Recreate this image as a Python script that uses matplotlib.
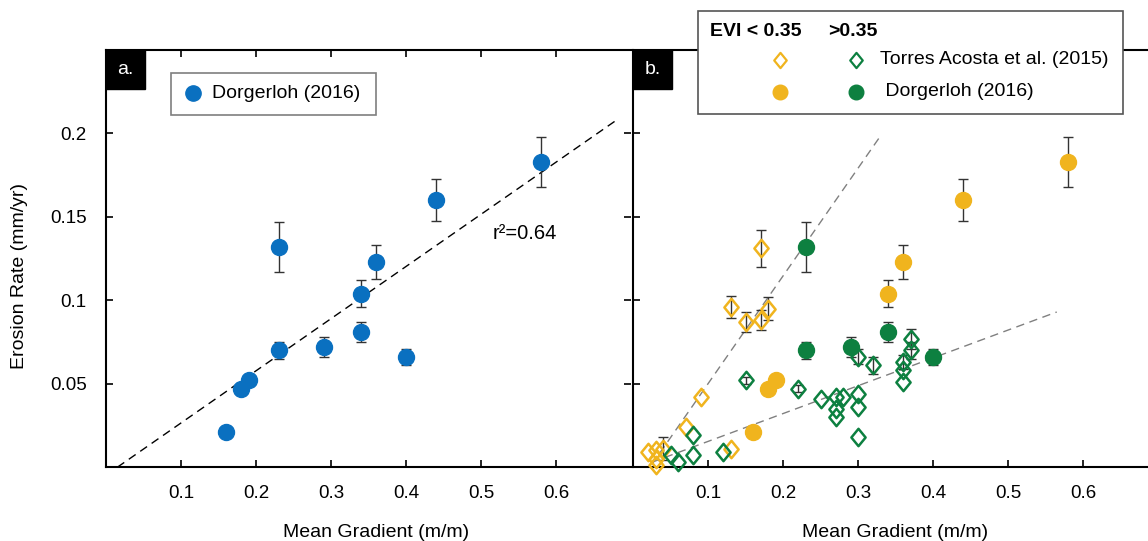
import numpy as np
import matplotlib.pyplot as plt
from matplotlib.lines import Line2D
from matplotlib.patches import Rectangle
from matplotlib.path import Path

plt.rcParams['font.family'] = ['Liberation Sans', 'DejaVu Sans']

# Dorgerloh (2016): mean gradient, erosion rate, error
dor_x = [0.16, 0.18, 0.19, 0.23, 0.23, 0.29, 0.34, 0.34, 0.36, 0.40, 0.44, 0.58]
dor_y = [0.021, 0.047, 0.052, 0.070, 0.132, 0.072, 0.081, 0.104, 0.123, 0.066, 0.160, 0.183]
dor_err = [0, 0, 0, 0.005, 0.015, 0.006, 0.006, 0.008, 0.010, 0.005, 0.0125, 0.015]
dor_high_evi = [False, False, False, True, True, True, True, False, False, True, False, False]

# Torres Acosta et al. (2015), EVI < 0.35
tl_x = [0.02, 0.03, 0.03, 0.03, 0.04, 0.07, 0.09, 0.13, 0.13, 0.15, 0.17, 0.17, 0.18]
tl_y = [0.009, 0.010, 0.005, 0.001, 0.011, 0.024, 0.042, 0.011, 0.096, 0.087, 0.088, 0.131, 0.095]
tl_err = [0, 0, 0, 0, 0.007, 0, 0, 0, 0.0065, 0.006, 0.006, 0.011, 0.007]

# Torres Acosta et al. (2015), EVI > 0.35
th_x = [0.05, 0.06, 0.08, 0.08, 0.12, 0.15, 0.22, 0.25, 0.27, 0.27, 0.27, 0.28,
        0.30, 0.30, 0.30, 0.30, 0.32, 0.36, 0.36, 0.36, 0.37, 0.37]
th_y = [0.007, 0.003, 0.019, 0.007, 0.009, 0.052, 0.047, 0.041, 0.042, 0.035, 0.030, 0.042,
        0.044, 0.036, 0.018, 0.066, 0.061, 0.063, 0.058, 0.051, 0.077, 0.070]
th_err = [0, 0, 0, 0, 0, 0.002, 0.002, 0, 0, 0, 0, 0,
          0, 0, 0, 0.0045, 0.005, 0.004, 0, 0, 0.006, 0.005]

# x extent of the fitted lines
fit_a_range = (0.0, 0.68)
fit_low_range = (0.025, 0.33)
fit_high_range = (0.025, 0.565)

x_ticks = [0.1, 0.2, 0.3, 0.4, 0.5, 0.6]
y_ticks = [0.05, 0.1, 0.15, 0.2]
y_ticklabels = ['0.05', '0.1', '0.15', '0.2']

BLUE = '#0a70c0'
ORANGE = '#f0b41e'
GREEN = '#0d8040'
ERR = '#333333'

W, H = 1148, 541
fig = plt.figure(figsize=(W / 100, H / 100), dpi=100)


def fx(x):
    return x / W


def fy(y):
    return 1 - y / H


diamond = Path([(0, 1), (0.82, 0), (0, -1), (-0.82, 0), (0, 1)],
               [Path.MOVETO, Path.LINETO, Path.LINETO, Path.LINETO, Path.CLOSEPOLY])

ax_a = fig.add_axes([fx(106), fy(467), 525 / W, 417 / H])
ax_b = fig.add_axes([fx(633), fy(467), 525 / W, 417 / H])


def errbars(ax, x, y, e, z=2):
    x, y, e = np.array(x), np.array(y), np.array(e)
    m = e > 0
    ax.errorbar(x[m], y[m], yerr=e[m], fmt='none', ecolor=ERR, elinewidth=1,
                capsize=3.5, capthick=1, zorder=z, clip_on=False)


# panel a
dx, dy = np.array(dor_x), np.array(dor_y)
k, b = np.polyfit(dx, dy, 1)
xx = np.linspace(*fit_a_range, 50)
ax_a.plot(xx, k * xx + b, color='black', lw=1, ls=(0, (6, 4)), zorder=1)
errbars(ax_a, dor_x, dor_y, dor_err)
ax_a.plot(dx, dy, 'o', ms=11.5, color=BLUE, mec=BLUE, zorder=3, clip_on=False)
ax_a.text(0.515, 0.14, 'r\u00b2=0.64', fontsize=14.5, va='center')

# panel b
tlx, tly = np.array(tl_x), np.array(tl_y)
thx, thy = np.array(th_x), np.array(th_y)
k1, b1 = np.polyfit(tlx, tly, 1)
k2, b2 = np.polyfit(thx, thy, 1)
x1 = np.linspace(*fit_low_range, 50)
x2 = np.linspace(*fit_high_range, 50)
ax_b.plot(x1, k1 * x1 + b1, color='#808080', lw=1, ls=(0, (6, 4)), zorder=1)
ax_b.plot(x2, k2 * x2 + b2, color='#808080', lw=1, ls=(0, (6, 4)), zorder=1)

errbars(ax_b, tl_x, tl_y, tl_err)
errbars(ax_b, th_x, th_y, th_err)
errbars(ax_b, dor_x, dor_y, dor_err)

ax_b.plot(tlx, tly, ls='none', marker=diamond, ms=12.5, mfc='none', mec=ORANGE, mew=1.8,
          zorder=3, clip_on=False)
ax_b.plot(thx, thy, ls='none', marker=diamond, ms=12.5, mfc='none', mec=GREEN, mew=1.8,
          zorder=3, clip_on=False)
hi = np.array(dor_high_evi)
ax_b.plot(dx[~hi], dy[~hi], 'o', ms=11.5, color=ORANGE, zorder=4, clip_on=False)
ax_b.plot(dx[hi], dy[hi], 'o', ms=11.5, color=GREEN, zorder=4, clip_on=False)

for ax, lab in [(ax_a, 'a.'), (ax_b, 'b.')]:
    ax.set_xlim(0, 0.7)
    ax.set_ylim(0, 0.25)
    ax.set_xticks(x_ticks)
    ax.set_xticklabels([f'{t:g}' for t in x_ticks])
    ax.set_yticks(y_ticks)
    ax.set_yticklabels(y_ticklabels)
    ax.tick_params(direction='in', length=5, width=1.2, top=True, right=True,
                   labelsize=13.5)
    ax.tick_params(axis='x', pad=13)
    ax.tick_params(axis='y', pad=14)
    for s in ax.spines.values():
        s.set_linewidth(1.5)
    ax.add_patch(Rectangle((0, 0.906), 0.074, 0.094, transform=ax.transAxes,
                           color='black', clip_on=False, zorder=5))
    ax.text(0.037, 0.953, lab, transform=ax.transAxes, color='white',
            fontsize=14, ha='center', va='center', zorder=6)
    ax.set_xlabel('Mean Gradient (m/m)', fontsize=14)

ax_a.spines['right'].set_visible(False)
ax_b.tick_params(labelleft=False)
ax_a.set_ylabel('Erosion Rate (mm/yr)', fontsize=14)
ax_a.yaxis.set_label_coords(-0.149, 0.458)
ax_a.xaxis.set_label_coords(0.514, -0.137)
ax_b.xaxis.set_label_coords(0.5, -0.137)

# legend panel a
fig.add_artist(Rectangle((fx(171), fy(115)), 205 / W, 42 / H, transform=fig.transFigure,
                         facecolor='white', edgecolor='#7f7f7f', lw=1.2))
fig.add_artist(Line2D([fx(193)], [fy(93)], marker='o', ms=11, color=BLUE, ls='none',
                      transform=fig.transFigure))
fig.text(fx(212), fy(93), 'Dorgerloh (2016)', fontsize=14, va='center')

# legend panel b
fig.add_artist(Rectangle((fx(698), fy(114)), 425 / W, 103 / H, transform=fig.transFigure,
                         facecolor='white', edgecolor='#555555', lw=1.2))
fig.text(fx(710), fy(32), 'EVI < 0.35', fontsize=14, fontweight='bold', va='center')
fig.text(fx(828), fy(32), '>0.35', fontsize=14, fontweight='bold', va='center')
for xc, col in [(780, ORANGE), (856, GREEN)]:
    fig.add_artist(Line2D([fx(xc)], [fy(60)], marker=diamond, ms=11, mfc='none', mec=col,
                          mew=1.6, ls='none', transform=fig.transFigure))
    fig.add_artist(Line2D([fx(xc)], [fy(92)], marker='o', ms=10.5, color=col, ls='none',
                          transform=fig.transFigure))
fig.text(fx(880), fy(60), 'Torres Acosta et al. (2015)', fontsize=14, va='center')
fig.text(fx(880), fy(92), ' Dorgerloh (2016)', fontsize=14, va='center')

fig.savefig('out.png', dpi=100)
